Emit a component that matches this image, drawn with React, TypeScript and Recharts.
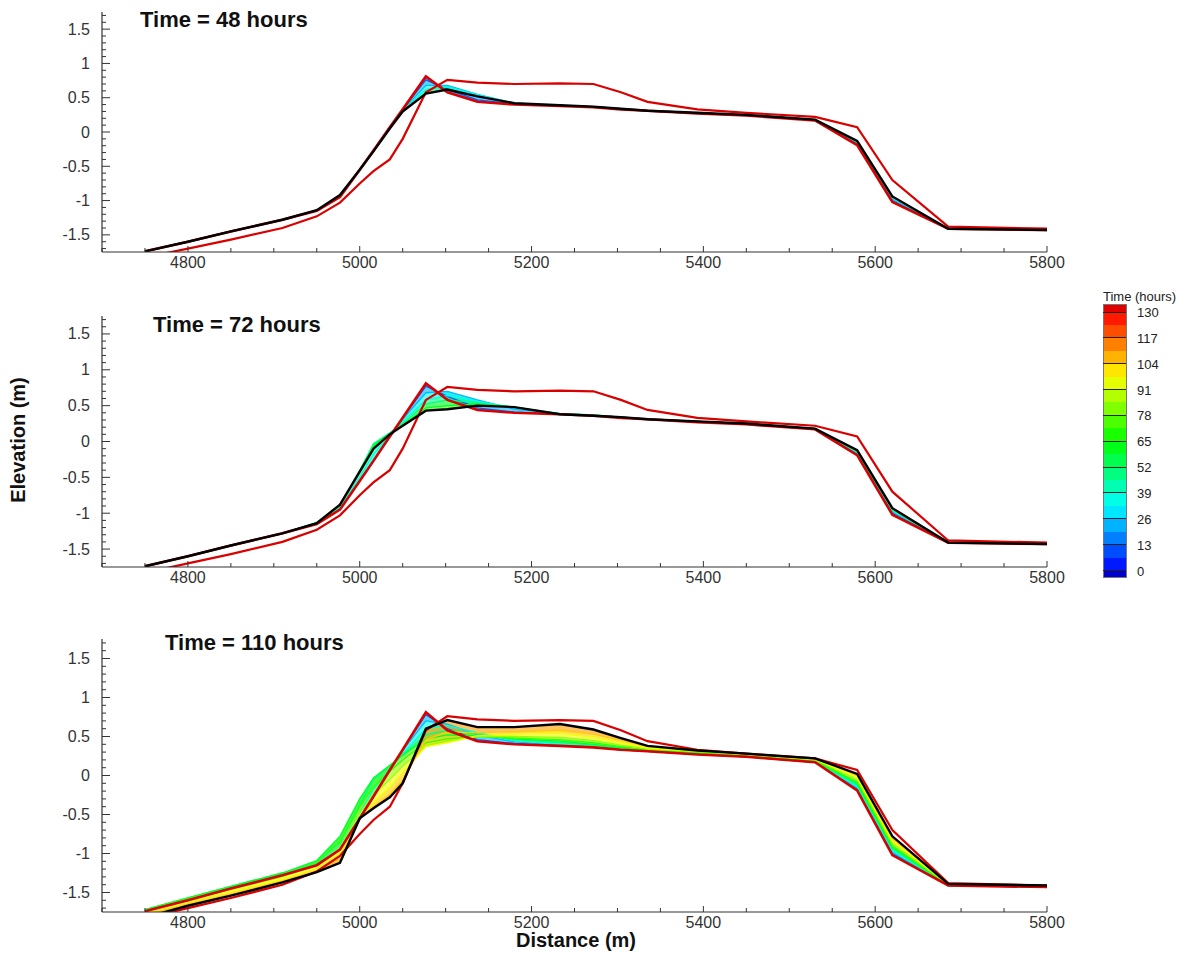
import React from "react";
import { ComposedChart, Line, Area, XAxis, YAxis } from "recharts";

// cross-shore distance of the profile nodes (m)
const DISTANCE = [4750, 4800, 4850, 4910, 4950, 4977, 5000, 5016, 5035, 5050, 5077, 5102, 5137, 5180, 5233, 5272, 5304, 5335, 5393, 5450, 5530, 5579, 5620, 5685, 5800];

// measured profiles (red)
const PRE_STORM = [-1.74, -1.6, -1.45, -1.28, -1.15, -0.95, -0.55, -0.27, 0.07, 0.33, 0.81, 0.58, 0.44, 0.4, 0.38, 0.36, 0.33, 0.31, 0.27, 0.24, 0.17, -0.19, -1.02, -1.41, -1.43];
const POST_STORM = [-1.83, -1.7, -1.57, -1.4, -1.23, -1.03, -0.75, -0.57, -0.4, -0.1, 0.58, 0.76, 0.72, 0.7, 0.71, 0.7, 0.58, 0.44, 0.33, 0.28, 0.22, 0.07, -0.7, -1.38, -1.41];

// 48 h
const FINAL_48H = [-1.74, -1.6, -1.45, -1.28, -1.14, -0.92, -0.55, -0.28, 0.05, 0.3, 0.56, 0.62, 0.52, 0.42, 0.39, 0.37, 0.34, 0.31, 0.28, 0.25, 0.18, -0.13, -0.94, -1.41, -1.43];
const STEP_TIMES_48H = [12, 24, 36];
const STEPS_48H = [
  [-1.74, -1.6, -1.45, -1.28, -1.15, -0.94, -0.55, -0.27, 0.07, 0.33, 0.76, 0.62, 0.47, 0.41, 0.38, 0.36, 0.33, 0.31, 0.27, 0.24, 0.17, -0.18, -1.0, -1.41, -1.43],
  [-1.74, -1.6, -1.45, -1.28, -1.15, -0.93, -0.55, -0.27, 0.06, 0.32, 0.68, 0.68, 0.55, 0.42, 0.38, 0.36, 0.33, 0.31, 0.27, 0.24, 0.17, -0.16, -0.98, -1.41, -1.43],
  [-1.74, -1.6, -1.45, -1.28, -1.14, -0.93, -0.55, -0.28, 0.05, 0.31, 0.62, 0.66, 0.54, 0.42, 0.39, 0.37, 0.34, 0.31, 0.28, 0.25, 0.18, -0.15, -0.96, -1.41, -1.43],
];

// 72 h
const FINAL_72H = [-1.74, -1.6, -1.45, -1.28, -1.14, -0.88, -0.42, -0.1, 0.1, 0.22, 0.43, 0.45, 0.5, 0.48, 0.38, 0.36, 0.34, 0.31, 0.28, 0.25, 0.18, -0.12, -0.93, -1.41, -1.43];
const STEP_TIMES_72H = [12, 24, 36, 48, 60];
const STEPS_72H = [
  [-1.74, -1.6, -1.45, -1.28, -1.15, -0.94, -0.55, -0.27, 0.07, 0.33, 0.77, 0.63, 0.47, 0.41, 0.38, 0.36, 0.33, 0.31, 0.27, 0.24, 0.17, -0.18, -1.0, -1.41, -1.43],
  [-1.74, -1.6, -1.45, -1.28, -1.15, -0.93, -0.55, -0.26, 0.06, 0.31, 0.68, 0.7, 0.58, 0.45, 0.39, 0.36, 0.33, 0.31, 0.27, 0.24, 0.17, -0.16, -0.98, -1.41, -1.43],
  [-1.74, -1.6, -1.45, -1.28, -1.14, -0.92, -0.5, -0.18, 0.08, 0.28, 0.58, 0.64, 0.56, 0.47, 0.39, 0.37, 0.34, 0.31, 0.28, 0.25, 0.18, -0.15, -0.96, -1.41, -1.43],
  [-1.74, -1.6, -1.45, -1.28, -1.13, -0.9, -0.4, -0.03, 0.12, 0.25, 0.52, 0.58, 0.54, 0.48, 0.39, 0.37, 0.34, 0.31, 0.28, 0.25, 0.18, -0.14, -0.95, -1.41, -1.43],
  [-1.74, -1.6, -1.45, -1.28, -1.13, -0.89, -0.42, -0.06, 0.11, 0.23, 0.47, 0.5, 0.52, 0.48, 0.38, 0.36, 0.34, 0.31, 0.28, 0.25, 0.18, -0.13, -0.94, -1.41, -1.43],
];

// 110 h
const FINAL_110H = [-1.82, -1.67, -1.54, -1.37, -1.24, -1.12, -0.55, -0.42, -0.28, -0.1, 0.6, 0.71, 0.62, 0.62, 0.66, 0.59, 0.48, 0.38, 0.32, 0.28, 0.22, 0.02, -0.78, -1.39, -1.41];
const STEP_TIMES_110H = [12, 24, 36, 48, 60, 72, 84, 96, 104];
const STEPS_110H = [
  [-1.74, -1.6, -1.45, -1.28, -1.15, -0.94, -0.55, -0.27, 0.07, 0.33, 0.78, 0.6, 0.46, 0.41, 0.38, 0.36, 0.33, 0.31, 0.27, 0.24, 0.17, -0.18, -1.0, -1.41, -1.43],
  [-1.74, -1.6, -1.45, -1.28, -1.15, -0.93, -0.54, -0.25, 0.06, 0.32, 0.7, 0.66, 0.52, 0.43, 0.39, 0.36, 0.33, 0.31, 0.27, 0.24, 0.17, -0.16, -0.98, -1.41, -1.43],
  [-1.73, -1.59, -1.44, -1.27, -1.13, -0.9, -0.48, -0.18, 0.08, 0.28, 0.6, 0.64, 0.55, 0.45, 0.4, 0.37, 0.34, 0.31, 0.28, 0.24, 0.18, -0.14, -0.96, -1.41, -1.43],
  [-1.72, -1.57, -1.42, -1.25, -1.11, -0.85, -0.38, -0.05, 0.12, 0.27, 0.52, 0.58, 0.53, 0.46, 0.42, 0.39, 0.35, 0.32, 0.28, 0.25, 0.18, -0.12, -0.94, -1.41, -1.43],
  [-1.72, -1.57, -1.42, -1.25, -1.09, -0.78, -0.3, -0.03, 0.13, 0.26, 0.47, 0.52, 0.51, 0.47, 0.44, 0.4, 0.36, 0.32, 0.29, 0.25, 0.19, -0.1, -0.92, -1.4, -1.43],
  [-1.73, -1.58, -1.44, -1.27, -1.12, -0.86, -0.4, -0.15, 0.05, 0.2, 0.42, 0.47, 0.5, 0.48, 0.46, 0.42, 0.37, 0.33, 0.3, 0.26, 0.19, -0.08, -0.9, -1.4, -1.42],
  [-1.74, -1.6, -1.46, -1.3, -1.15, -0.92, -0.48, -0.25, -0.05, 0.12, 0.38, 0.44, 0.5, 0.5, 0.49, 0.45, 0.39, 0.34, 0.31, 0.27, 0.2, -0.05, -0.87, -1.4, -1.42],
  [-1.76, -1.62, -1.49, -1.33, -1.19, -1.0, -0.53, -0.35, -0.15, 0.04, 0.37, 0.42, 0.51, 0.53, 0.54, 0.49, 0.42, 0.35, 0.31, 0.27, 0.21, -0.02, -0.84, -1.39, -1.42],
  [-1.79, -1.65, -1.52, -1.35, -1.22, -1.07, -0.55, -0.4, -0.24, -0.06, 0.46, 0.56, 0.55, 0.56, 0.58, 0.53, 0.45, 0.37, 0.32, 0.28, 0.22, 0.0, -0.81, -1.39, -1.41],
];

const X_MAJOR = [4800, 5000, 5200, 5400, 5600, 5800];
const X_TICKS = Array.from({ length: 23 }, (_, i) => 4700 + i * 50);
const Y_TICKS = Array.from({ length: 35 }, (_, i) => (i - 17) / 10);
const COLORBAR_TICKS = [130, 117, 104, 91, 78, 65, 52, 39, 26, 13, 0];
const T_MAX = 130;

const FONT = "'Liberation Sans', Arial, Helvetica, sans-serif";
const AXIS = "#333";
const RED = "#d90000";

const timeColor = (t: number) => {
  const h = 240 * (1 - Math.max(0, Math.min(T_MAX, t)) / T_MAX);
  return `hsl(${h.toFixed(0)}, 100%, 50%)`;
};

const XTick = (props: any) => {
  const { x, y, payload } = props;
  const major = X_MAJOR.includes(payload.value);
  return (
    <g>
      <line x1={x} x2={x} y1={y} y2={y - (major ? 6 : 4)} stroke={AXIS} strokeWidth={1} />
      {major && (
        <text x={x} y={y + 16} textAnchor="middle" fontSize={16} fill="#333" fontFamily={FONT}>
          {payload.value}
        </text>
      )}
    </g>
  );
};

const YTick = (props: any) => {
  const { x, y, payload } = props;
  const v = payload.value;
  const major = Math.abs(v * 2 - Math.round(v * 2)) < 1e-6;
  return (
    <g>
      <line x1={x} x2={x + (major ? 8 : 4)} y1={y} y2={y} stroke={AXIS} strokeWidth={1} />
      {major && (
        <text x={x - 12} y={y + 5.5} textAnchor="end" fontSize={16} fill="#333" fontFamily={FONT}>
          {Math.abs(v) < 1e-9 ? "0" : String(v)}
        </text>
      )}
    </g>
  );
};

interface PanelProps {
  hours: number;
  final: number[];
  stepTimes: number[];
  steps: number[][];
  top: number;
  height: number;
}

const Panel = ({ hours, final, stepTimes, steps, top, height }: PanelProps) => {
  const chain = [PRE_STORM, ...steps, final];
  const rows = DISTANCE.map((x, i) => {
    const r: any = { x, pre: PRE_STORM[i], post: POST_STORM[i], final: final[i] };
    steps.forEach((s, k) => (r[`s${k}`] = s[i]));
    for (let k = 0; k < chain.length - 1; k++) r[`b${k}`] = [chain[k][i], chain[k + 1][i]];
    return r;
  });
  const bandColor = (k: number) => timeColor(k < stepTimes.length ? stepTimes[k] : hours);

  return (
    <div style={{ position: "absolute", left: 0, top }}>
      <ComposedChart width={1070} height={height} data={rows} margin={{ top: 10, right: 31, left: 34, bottom: 0 }}>
        <XAxis
          dataKey="x"
          type="number"
          domain={[4700, 5800]}
          ticks={X_TICKS}
          interval={0}
          height={30}
          tickSize={0}
          tickMargin={0}
          tickLine={false}
          tick={XTick}
          axisLine={{ stroke: AXIS, strokeWidth: 1.2 }}
          allowDataOverflow
        />
        <YAxis
          type="number"
          domain={[-1.75, 1.75]}
          ticks={Y_TICKS}
          interval={0}
          width={60}
          tickSize={0}
          tickMargin={0}
          tickLine={false}
          tick={YTick}
          axisLine={{ stroke: AXIS, strokeWidth: 1.2 }}
          allowDataOverflow
        />
        {chain.slice(1).map((_, k) => (
          <Area
            key={`b${k}`}
            dataKey={`b${k}`}
            type="linear"
            stroke="none"
            fill={bandColor(k)}
            fillOpacity={0.62}
            isAnimationActive={false}
            activeDot={false}
            dot={false}
          />
        ))}
        {steps.map((_, k) => (
          <Line
            key={`s${k}`}
            dataKey={`s${k}`}
            type="linear"
            stroke={timeColor(stepTimes[k])}
            strokeWidth={1.3}
            dot={false}
            activeDot={false}
            isAnimationActive={false}
          />
        ))}
        <Line dataKey="post" type="linear" stroke={RED} strokeWidth={2.2} dot={false} activeDot={false} isAnimationActive={false} />
        <Line dataKey="pre" type="linear" stroke={RED} strokeWidth={2.6} dot={false} activeDot={false} isAnimationActive={false} />
        <Line dataKey="final" type="linear" stroke="#000" strokeWidth={2.4} dot={false} activeDot={false} isAnimationActive={false} />
      </ComposedChart>
    </div>
  );
};

const titleStyle = (left: number, top: number): React.CSSProperties => ({
  position: "absolute",
  left,
  top,
  fontFamily: FONT,
  fontWeight: "bold",
  fontSize: 22,
  lineHeight: "22px",
  color: "#111",
  whiteSpace: "nowrap",
});

const ColorBar = () => {
  const barTop = 296; // page 304
  const first = 304 - 8;
  const lineTop = 312 - 8;
  const step = 25.85;
  const bands: { top: number; h: number; c: string }[] = [];
  bands.push({ top: first, h: lineTop - first, c: "#e00000" });
  for (let k = 0; k < 20; k++) {
    const t = T_MAX - 3.25 - 6.5 * k;
    bands.push({ top: lineTop + (k * step) / 2, h: step / 2 + 0.5, c: timeColor(t) });
  }
  const bottomLine = lineTop + 10 * step;
  bands.push({ top: bottomLine, h: 577 - 8 - bottomLine, c: "#0000d0" });
  return (
    <div style={{ position: "absolute", left: 0, top: 0 }}>
      <div style={{ position: "absolute", left: 1095, top: 281, fontFamily: FONT, fontSize: 13, color: "#222", whiteSpace: "nowrap" }}>
        Time (hours)
      </div>
      {bands.map((b, i) => (
        <div key={i} style={{ position: "absolute", left: 1095, top: b.top, width: 23, height: b.h, background: b.c }} />
      ))}
      <div style={{ position: "absolute", left: 1095, top: barTop, width: 22, height: 577 - 304 - 1, border: "0.5px solid #777" }} />
      {COLORBAR_TICKS.map((v, i) => (
        <React.Fragment key={v}>
          <div style={{ position: "absolute", left: 1095, top: lineTop + i * step - 0.5, width: 23, height: 1, background: "#222" }} />
          <div
            style={{
              position: "absolute",
              left: 1129,
              top: lineTop + i * step - 6,
              fontFamily: FONT,
              fontSize: 13,
              lineHeight: "14px",
              color: "#222",
            }}
          >
            {v}
          </div>
        </React.Fragment>
      ))}
    </div>
  );
};

export default function App() {
  return (
    <div style={{ position: "relative", width: 1182, height: 945, background: "#fff" }}>
      <Panel hours={48} final={FINAL_48H} stepTimes={STEP_TIMES_48H} steps={STEPS_48H} top={-6} height={280} />
      <Panel hours={72} final={FINAL_72H} stepTimes={STEP_TIMES_72H} steps={STEPS_72H} top={298} height={291} />
      <Panel hours={110} final={FINAL_110H} stepTimes={STEP_TIMES_110H} steps={STEPS_110H} top={621} height={313} />
      <div style={titleStyle(132, 1)}>Time = 48 hours</div>
      <div style={titleStyle(145, 306)}>Time = 72 hours</div>
      <div style={titleStyle(157, 624)}>Time = 110 hours</div>
      <div
        style={{
          position: "absolute",
          left: 18 - 100 - 8,
          top: 440 - 12 - 8,
          width: 200,
          height: 24,
          lineHeight: "24px",
          textAlign: "center",
          transform: "rotate(-90deg)",
          fontFamily: FONT,
          fontWeight: "bold",
          fontSize: 20,
          color: "#111",
        }}
      >
        Elevation (m)
      </div>
      <div
        style={{
          position: "absolute",
          left: 576 - 100 - 8,
          top: 940 - 12 - 8,
          width: 200,
          height: 24,
          lineHeight: "24px",
          textAlign: "center",
          fontFamily: FONT,
          fontWeight: "bold",
          fontSize: 20,
          color: "#111",
          zIndex: 2,
        }}
      >
        Distance (m)
      </div>
      <ColorBar />
    </div>
  );
}
